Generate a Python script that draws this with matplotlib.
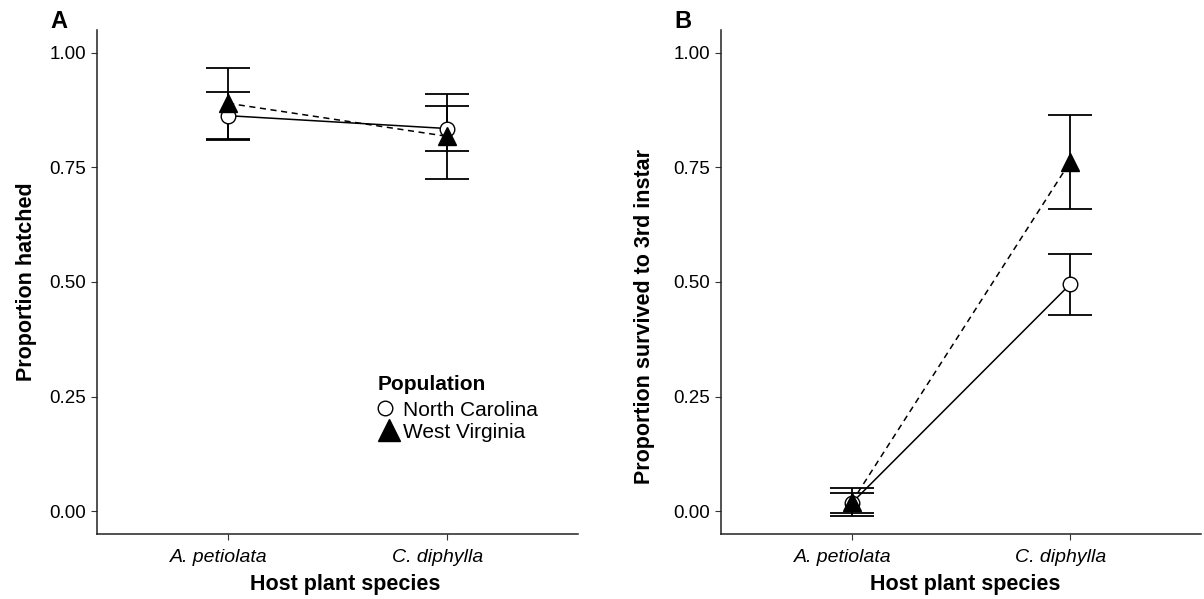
import matplotlib
matplotlib.use("Agg")
import matplotlib.pyplot as plt
import matplotlib.transforms as mtransforms
from matplotlib.lines import Line2D

plt.rcParams['font.family'] = ['Liberation Sans', 'DejaVu Sans']

hosts = ["A. petiolata", "C. diphylla"]
populations = ["North Carolina", "West Virginia"]

# Panel A: proportion hatched
hatch_nc = [0.863, 0.835]
hatch_nc_err = [0.052, 0.050]
hatch_wv = [0.890, 0.818]
hatch_wv_err = [0.077, 0.093]

# Panel B: proportion survived to 3rd instar
surv_nc = [0.018, 0.495]
surv_nc_err = [0.022, 0.067]
surv_wv = [0.020, 0.762]
surv_wv_err = [0.030, 0.102]

yticks = [0.00, 0.25, 0.50, 0.75, 1.00]
yticklabels = ["0.00", "0.25", "0.50", "0.75", "1.00"]

W, H = 1204, 599
fig = plt.figure(figsize=(W / 100, H / 100), dpi=100)

def make_ax(left_px, right_px, top_px, bottom_px):
    return fig.add_axes([left_px / W, (H - bottom_px) / H,
                         (right_px - left_px) / W, (bottom_px - top_px) / H])

axA = make_ax(97, 578, 30, 534)
axB = make_ax(721, 1201, 30, 534)

def draw(ax, nc, nce, wv, wve, ylabel, ylab_y, ylab_pad, xlab_x):
    x = list(range(1, len(hosts) + 1))
    ax.errorbar(x, wv, yerr=wve, fmt='none', ecolor='black', elinewidth=1.3,
                capsize=15.5, capthick=1.3, zorder=2)
    ax.errorbar(x, nc, yerr=nce, fmt='none', ecolor='black', elinewidth=1.3,
                capsize=15.5, capthick=1.3, zorder=2)
    ax.plot(x, nc, color='black', lw=1.1, ls='-', zorder=3)
    ax.plot(x, wv, color='black', lw=1.1, ls=(0, (4, 3)), zorder=3)
    ax.plot(x, nc, ls='none', marker='o', ms=10.5, mfc='white', mec='black',
            mew=1.0, zorder=4)
    ax.plot(x, wv, ls='none', marker='^', ms=13.5, mfc='black', mec='black',
            zorder=5)
    ax.set_xlim(0.4, 2.6)
    ax.set_ylim(-0.05, 1.05)
    ax.set_xticks(x)
    ax.set_xticklabels([])
    offset = mtransforms.ScaledTranslation(-9 / 100, -27.7 / 100, fig.dpi_scale_trans)
    for xi, lab in zip(x, hosts):
        ax.text(xi, 0, lab, transform=ax.get_xaxis_transform() + offset,
                fontstyle='italic', fontsize=14, ha='center', va='baseline',
                clip_on=False)
    ax.set_yticks(yticks)
    ax.set_yticklabels(yticklabels, fontsize=13.5)
    ax.tick_params(length=4, width=0.8, pad=4, color='#333333')
    for s in ['top', 'right']:
        ax.spines[s].set_visible(False)
    for s in ['left', 'bottom']:
        ax.spines[s].set_linewidth(1.1)
        ax.spines[s].set_color('#222222')
    ax.set_xlabel("Host plant species", fontsize=15.5, fontweight='bold', labelpad=21)
    ax.xaxis.label.set_x(xlab_x)
    ax.set_ylabel(ylabel, fontsize=15.5, fontweight='bold', labelpad=ylab_pad)
    ax.yaxis.label.set_y(ylab_y)

draw(axA, hatch_nc, hatch_nc_err, hatch_wv, hatch_wv_err, "Proportion hatched",
     0.5, 9, (345 - 97) / 481)
draw(axB, surv_nc, surv_nc_err, surv_wv, surv_wv_err, "Proportion survived to 3rd instar",
     (534 - 316) / 504, 13, (965 - 721) / 480)

fig.text(50 / W, 1 - 22 / H, "A", fontsize=17, fontweight='bold', va='center', ha='left')
fig.text(674 / W, 1 - 22 / H, "B", fontsize=17, fontweight='bold', va='center', ha='left')

# legend (manual, positioned like the reference)
def fx(px):
    return px / W

def fy(py):
    return 1 - py / H

fig.text(fx(378), fy(389.5), "Population", fontsize=15, fontweight='bold',
         ha='left', va='baseline')
leg_markers = [dict(marker='o', ms=10.5, mfc='white', mec='black', mew=1.0, x=385, y=408),
               dict(marker='^', ms=15.5, mfc='black', mec='black', mew=1.0, x=389, y=430)]
for lab, m in zip(populations, leg_markers):
    x, y = m.pop('x'), m.pop('y')
    fig.add_artist(Line2D([fx(x)], [fy(y)], transform=fig.transFigure, ls='none', **m))
    fig.text(fx(403), fy(y + 7.5), lab, fontsize=15, ha='left', va='baseline')

fig.savefig("out.png", dpi=100)
